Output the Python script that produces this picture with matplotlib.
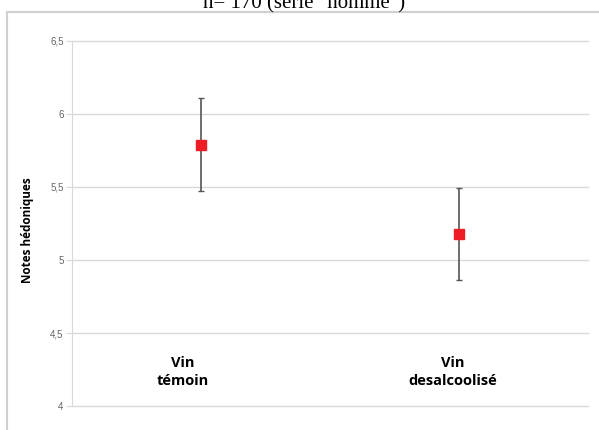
import matplotlib.pyplot as plt
from matplotlib.patches import Rectangle

categories = ["Vin\ntémoin", "Vin\ndesalcoolisé"]
means = [5.79, 5.18]
errors = [0.32, 0.315]
yticks = [4, 4.5, 5, 5.5, 6, 6.5]
ytick_labels = ["4", "4,5", "5", "5,5", "6", "6,5"]

fig = plt.figure(figsize=(5.99, 4.30), dpi=100)
ax = fig.add_axes([0.1202, 0.0558, 0.8614, 0.8489])

# outer chart frame (cropped screenshot)
fig.patches.append(Rectangle((7 / 599, -0.05), 1.1, 1 - 12 / 430 + 0.05,
                             transform=fig.transFigure, fill=False,
                             edgecolor="#d0d0d0", linewidth=1.5, clip_on=False))

fig.text(0.508, 0.981, "n= 170 (série \"homme\")", ha="center", va="baseline",
         fontsize=15, family="Liberation Serif")

xs = [0.25, 0.75]
ax.errorbar(xs, means, yerr=errors, fmt="s", color="#ee1c25", markersize=7.5,
            ecolor="#555555", elinewidth=1.2, capsize=2.5, capthick=1, zorder=3)

ax.set_xlim(0, 1)
ax.set_ylim(4, 6.5)
ax.set_yticks(yticks)
ax.set_yticklabels(ytick_labels, fontsize=7, color="#666666", family="Liberation Sans")
ax.tick_params(axis="y", length=4, color="#d9d9d9", pad=2)
ax.set_xticks([])
ax.grid(axis="y", color="#d9d9d9", linewidth=1)
for gl in ax.get_ygridlines():
    gl.set_clip_on(False)
ax.set_axisbelow(True)
for s in ["top", "right", "bottom"]:
    ax.spines[s].set_visible(False)
ax.spines["left"].set_color("#d9d9d9")

label_x = [0.215, 0.738]
for x, lab in zip(label_x, categories):
    ax.text(x, 4.23, lab, ha="center", va="center", fontsize=10.5, fontweight="bold",
            family="Open Sans", linespacing=1.35)

fig.text(27 / 599, 1 - 230 / 430, "Notes hédoniques", rotation=90, ha="center",
         va="center", fontsize=8.5, fontweight="bold", family="Open Sans")

plt.savefig("out.png", dpi=100)
